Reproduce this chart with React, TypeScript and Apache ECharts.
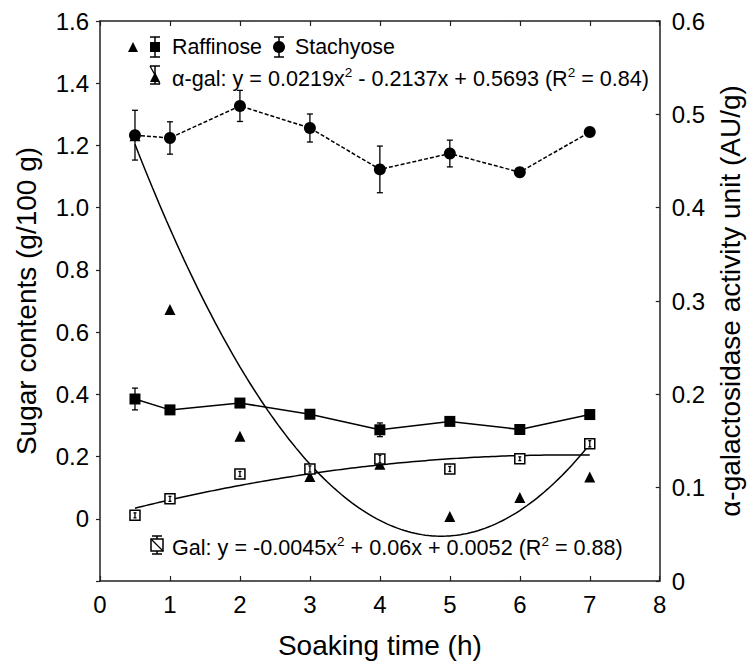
import React, { useEffect, useRef } from "react";
import * as echarts from "echarts";

const times = [0.5, 1, 2, 3, 4, 5, 6, 7];
const stachyose = [1.233, 1.224, 1.327, 1.256, 1.123, 1.174, 1.114, 1.243];
const stachyoseErr = [0.08, 0.052, 0.05, 0.045, 0.075, 0.043, 0, 0];
const raffinose = [0.385, 0.35, 0.372, 0.336, 0.286, 0.313, 0.287, 0.335];
const raffinoseErr = [0.035, 0.012, 0.01, 0.008, 0.022, 0.01, 0.008, 0];
const gal = [0.011, 0.064, 0.144, 0.16, 0.192, 0.16, 0.193, 0.241];
const galErr = [0.008, 0.008, 0.008, 0.01, 0.012, 0.008, 0.006, 0.01];
const alphaGal = [0.477, 0.291, 0.155, 0.112, 0.125, 0.069, 0.0895, 0.1115];
// fitted quadratic coefficients shown in the chart: a x^2 + b x + c
const alphaGalFit = [0.0219, -0.2137, 0.5693];
const galFit = [-0.0045, 0.06, 0.0052];
const fitRange = [0.5, 7];

const FONT = "'Liberation Sans', Arial, sans-serif";

function fitCurve(coef: number[]) {
  const pts: number[][] = [];
  const n = 130;
  for (let i = 0; i <= n; i++) {
    const x = fitRange[0] + ((fitRange[1] - fitRange[0]) * i) / n;
    pts.push([x, coef[0] * x * x + coef[1] * x + coef[2]]);
  }
  return pts;
}

function errorBarSeries(vals: number[], errs: number[], yAxisIndex: number, width: number, z: number) {
  return {
    type: "custom",
    yAxisIndex,
    z,
    silent: true,
    data: times.map((t, i) => [t, vals[i], errs[i]]),
    encode: { x: 0, y: 1 },
    renderItem: (params: any, api: any) => {
      const x = api.value(0);
      const y = api.value(1);
      const e = api.value(2);
      if (!e) return { type: "group", children: [] };
      const top = api.coord([x, y + e]);
      const bot = api.coord([x, y - e]);
      const w = width;
      const st = { stroke: "#000", lineWidth: 1.3 };
      return {
        type: "group",
        children: [
          { type: "line", shape: { x1: top[0], y1: top[1], x2: bot[0], y2: bot[1] }, style: st },
          { type: "line", shape: { x1: top[0] - w, y1: top[1], x2: top[0] + w, y2: top[1] }, style: st },
          { type: "line", shape: { x1: bot[0] - w, y1: bot[1], x2: bot[0] + w, y2: bot[1] }, style: st },
        ],
      };
    },
  };
}

function errIcon(cx: number, cy: number, h: number) {
  const st = { stroke: "#000", lineWidth: 1.5 };
  return [
    { type: "line", shape: { x1: cx, y1: cy - h, x2: cx, y2: cy + h }, style: st },
    { type: "line", shape: { x1: cx - 5, y1: cy - h, x2: cx + 5, y2: cy - h }, style: st },
    { type: "line", shape: { x1: cx - 5, y1: cy + h, x2: cx + 5, y2: cy + h }, style: st },
  ];
}

const rich = {
  n: { fontSize: 21.6, fontFamily: FONT, color: "#000", lineHeight: 26 },
  s: { fontSize: 13.5, fontFamily: FONT, color: "#000", verticalAlign: "top", lineHeight: 26 },
};

export default function App() {
  const ref = useRef<HTMLDivElement>(null);
  useEffect(() => {
    if (!ref.current) return;
    const chart = echarts.init(ref.current, null, { renderer: "svg" });
    const axisLine = { show: true, onZero: false, lineStyle: { color: "#222", width: 1.5 } };
    const graphic: any[] = [
      // legend line 1
      { type: "polygon", shape: { points: [[128, 52], [138, 52], [133, 42]] }, style: { fill: "#000" } },
      ...errIcon(155, 47, 10),
      { type: "rect", shape: { x: 150, y: 42, width: 10, height: 10 }, style: { fill: "#000" } },
      { type: "text", x: 172, y: 47, style: { text: "Raffinose", font: `21.4px ${FONT}`, fill: "#000", verticalAlign: "middle" } },
      ...errIcon(279, 47, 10),
      { type: "circle", shape: { cx: 279, cy: 47, r: 6 }, style: { fill: "#000" } },
      { type: "text", x: 295, y: 47, style: { text: "Stachyose", font: `21.4px ${FONT}`, fill: "#000", verticalAlign: "middle" } },
      // legend line 2
      ...errIcon(155, 75, 9),
      { type: "line", shape: { x1: 150, y1: 66, x2: 160, y2: 84 }, style: { stroke: "#000", lineWidth: 1.3 } },
      { type: "polygon", shape: { points: [[150, 82], [160, 82], [155, 72]] }, style: { fill: "#000" } },
      {
        type: "text",
        x: 172,
        y: 78,
        style: {
          text: "{n|α-gal: y = 0.0219x}{s|2}{n| - 0.2137x + 0.5693 (R}{s|2}{n| = 0.84)}",
          rich,
          verticalAlign: "middle",
        },
      },
      // Gal legend
      ...errIcon(157, 545, 9),
      { type: "rect", shape: { x: 151, y: 539, width: 12, height: 12 }, style: { fill: "#fff", stroke: "#000", lineWidth: 1.5 } },
      { type: "line", shape: { x1: 151, y1: 539, x2: 163, y2: 551 }, style: { stroke: "#000", lineWidth: 1.2 } },
      {
        type: "text",
        x: 172,
        y: 547,
        style: {
          text: "{n|Gal: y = -0.0045x}{s|2}{n| + 0.06x + 0.0052 (R}{s|2}{n| = 0.88)}",
          rich,
          verticalAlign: "middle",
        },
      },
    ];

    chart.setOption({
      animation: false,
      backgroundColor: "#fff",
      textStyle: { fontFamily: FONT },
      grid: { left: 100, right: 92, top: 21, bottom: 88 },
      xAxis: [
        {
          type: "value",
          min: 0,
          max: 8,
          interval: 1,
          position: "bottom",
          axisLine,
          axisTick: { show: true, inside: true, length: 5, lineStyle: { color: "#222", width: 1.2 } },
          splitLine: { show: false },
          axisLabel: { fontSize: 24, color: "#000", margin: 11, fontFamily: FONT },
          name: "Soaking time (h)",
          nameLocation: "middle",
          nameGap: 50,
          nameTextStyle: { fontSize: 28, color: "#000", fontFamily: FONT },
        },
        {
          type: "value",
          min: 0,
          max: 8,
          interval: 1,
          position: "top",
          axisLine,
          axisTick: { show: true, inside: true, length: 5, lineStyle: { color: "#222", width: 1.2 } },
          splitLine: { show: false },
          axisLabel: { show: false },
        },
      ],
      yAxis: [
        {
          type: "value",
          min: -0.2,
          max: 1.6,
          interval: 0.2,
          position: "left",
          axisLine,
          axisTick: { show: true, inside: false, length: 4, lineStyle: { color: "#222", width: 1.2 } },
          splitLine: { show: false },
          axisLabel: {
            fontSize: 24,
            color: "#000",
            margin: 11,
            fontFamily: FONT,
            formatter: (v: number) => (v < -1e-9 ? "" : Math.abs(v) < 1e-9 ? "0" : v.toFixed(1)),
          },
          name: "Sugar contents (g/100 g)",
          nameLocation: "middle",
          nameRotate: 90,
          nameGap: 60,
          nameTextStyle: { fontSize: 28, color: "#000", fontFamily: FONT },
        },
        {
          type: "value",
          min: 0,
          max: 0.6,
          interval: 0.1,
          position: "right",
          axisLine,
          axisTick: { show: true, inside: true, length: 4, lineStyle: { color: "#222", width: 1.2 } },
          splitLine: { show: false },
          axisLabel: {
            fontSize: 24,
            color: "#000",
            margin: 12,
            fontFamily: FONT,
            formatter: (v: number) => (Math.abs(v) < 1e-9 ? "0" : v.toFixed(1)),
          },
          name: "α-galactosidase activity unit (AU/g)",
          nameLocation: "middle",
          nameRotate: 90,
          nameGap: 30,
          nameTextStyle: { fontSize: 28, color: "#000", fontFamily: FONT },
        },
      ],
      graphic,
      series: [
        {
          name: "α-gal fit",
          type: "line",
          yAxisIndex: 1,
          data: fitCurve(alphaGalFit),
          showSymbol: false,
          lineStyle: { color: "#000", width: 1.5 },
          z: 2,
          silent: true,
        },
        {
          name: "Gal fit",
          type: "line",
          yAxisIndex: 0,
          data: fitCurve(galFit),
          showSymbol: false,
          lineStyle: { color: "#000", width: 1.5 },
          z: 2,
          silent: true,
        },
        {
          name: "α-gal",
          type: "scatter",
          yAxisIndex: 1,
          data: times.map((t, i) => [t, alphaGal[i]]),
          symbol: "triangle",
          symbolSize: 11,
          itemStyle: { color: "#000", opacity: 1 },
          z: 3,
        },
        errorBarSeries(raffinose, raffinoseErr, 0, 3, 4),
        {
          name: "Raffinose",
          type: "line",
          yAxisIndex: 0,
          data: times.map((t, i) => [t, raffinose[i]]),
          symbol: "rect",
          symbolSize: 11,
          itemStyle: { color: "#000", opacity: 1 },
          lineStyle: { color: "#000", width: 1.5 },
          z: 5,
        },
        errorBarSeries(stachyose, stachyoseErr, 0, 3, 4),
        {
          name: "Stachyose",
          type: "line",
          yAxisIndex: 0,
          data: times.map((t, i) => [t, stachyose[i]]),
          symbol: "circle",
          symbolSize: 12,
          itemStyle: { color: "#000", opacity: 1 },
          lineStyle: { color: "#000", width: 1.5, type: [4, 2] },
          z: 5,
        },
        {
          name: "Gal",
          type: "scatter",
          yAxisIndex: 0,
          data: times.map((t, i) => [t, gal[i]]),
          symbol: "rect",
          symbolSize: 10,
          itemStyle: { color: "#fff", borderColor: "#000", borderWidth: 1.5, opacity: 1 },
          z: 6,
        },
        errorBarSeries(gal, galErr, 0, 1.5, 7),
      ],
    });
    return () => chart.dispose();
  }, []);
  return <div ref={ref} style={{ position: "fixed", left: 0, top: 0, width: 752, height: 669 }} />;
}
